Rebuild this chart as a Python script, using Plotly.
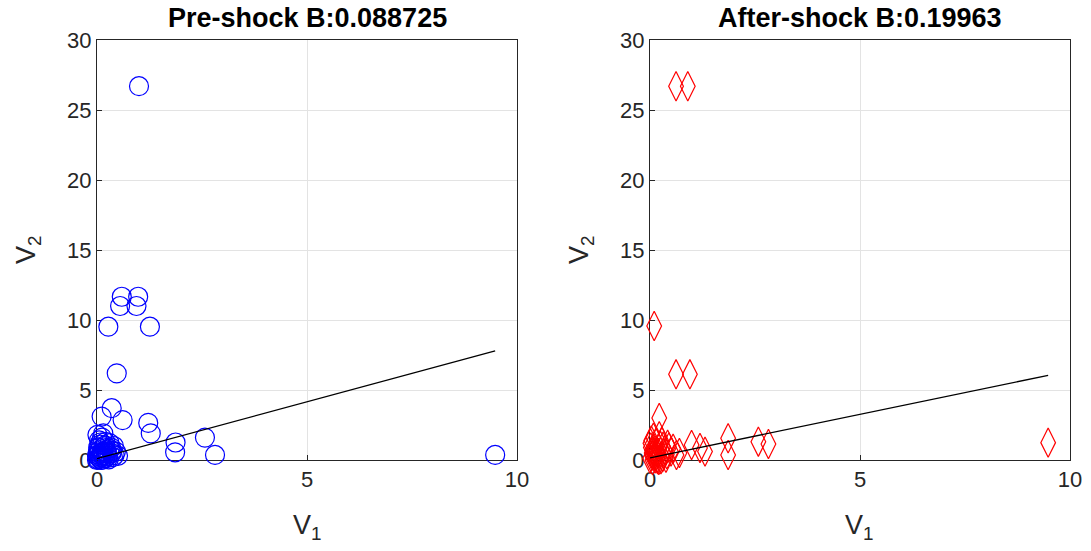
import plotly.graph_objects as go

# Pre-shock data (V1, V2)
pre_v1 = [1.0, 0.59, 0.55, 0.98, 0.94, 0.27, 1.26, 0.47, 0.35, 0.11, 0.61, 1.22, 1.28,
          1.87, 1.86, 2.57, 2.81, 9.48,
          0.05, 0.10, 0.15, 0.20, 0.12, 0.25, 0.30, 0.08, 0.35, 0.40, 0.45, 0.02, 0.18,
          0.22, 0.05, 0.30, 0.50, 0.10, 0.28, 0.15, 0.38, 0.06, 0.12, 0.20, 0.03,
          0.00, 0.04, 0.14, 0.24, 0.33, 0.01, 0.09, 0.07, 0.16, 0.26, 0.36, 0.02,
          0.11, 0.19, 0.04, 0.08, 0.13, 0.23, 0.42, 0.00, 0.06]
pre_v2 = [26.7, 11.66, 11.0, 11.66, 11.0, 9.52, 9.52, 6.19, 3.7, 3.1, 2.85, 2.65, 1.9,
          1.25, 0.55, 1.6, 0.36, 0.36,
          0.2, 0.5, 0.9, 1.3, 1.6, 0.3, 0.8, 1.1, 0.5, 1.0, 0.6, 0.05, 0.1,
          0.7, 1.4, 1.2, 0.3, 0.0, 0.05, 1.9, 0.2, 0.7, 0.35, 0.15, 0.9,
          0.0, 0.4, 0.6, 0.45, 0.9, 1.8, 0.25, 0.1, 0.3, 0.15, 0.65, 0.55,
          0.0, 1.05, 0.85, 1.25, 0.45, 0.55, 0.35, 0.3, 0.15]

# After-shock data (V1, V2)
post_v1 = [0.62, 0.9, 0.10, 0.62, 0.95, 0.22, 0.99, 0.63, 1.19, 1.31, 1.86, 1.86,
           2.58, 2.82, 9.48,
           0.05, 0.10, 0.15, 0.20, 0.25, 0.30, 0.35, 0.40, 0.45, 0.50, 0.08, 0.12,
           0.18, 0.28, 0.33, 0.02, 0.06, 0.22, 0.38, 0.55, 0.70, 0.15, 0.03, 0.42,
           0.00, 0.04, 0.13, 0.26, 0.01, 0.09, 0.07, 0.17, 0.31, 0.05, 0.11, 0.21]
post_v2 = [26.7, 26.7, 9.57, 6.12, 6.12, 3.0, 1.07, 0.36, 0.86, 0.6, 1.55, 0.36,
           1.31, 1.14, 1.24,
           0.3, 0.8, 1.2, 0.5, 1.0, 0.2, 0.7, 0.4, 0.9, 0.6, 1.6, 0.1,
           0.05, 1.3, 0.45, 0.9, 0.0, 1.7, 0.15, 0.8, 0.5, 0.55, 1.4, 1.1,
           0.1, 0.5, 0.25, 0.05, 1.2, 0.6, 0.35, 0.15, 0.95, 0.7, 0.4, 0.0]

# Fitted line endpoints
pre_fit_x = [0.0, 9.48]
pre_fit_y = [0.1, 7.8]
post_fit_x = [0.0, 9.48]
post_fit_y = [0.15, 6.05]

titles = ["Pre-shock B:0.088725", "After-shock B:0.19963"]

W, H = 1091, 551
fig = go.Figure()

fig.add_trace(go.Scatter(x=pre_v1, y=pre_v2, mode="markers", xaxis="x", yaxis="y",
                         cliponaxis=False,
                         marker=dict(symbol="circle-open", size=19, color="#0000ff",
                                     line=dict(width=1.2, color="#0000ff")),
                         showlegend=False))
fig.add_trace(go.Scatter(x=pre_fit_x, y=pre_fit_y, mode="lines", xaxis="x", yaxis="y",
                         cliponaxis=False,
                         line=dict(color="black", width=1.3), showlegend=False))
fig.add_trace(go.Scatter(x=post_v1, y=post_v2, mode="markers", xaxis="x2", yaxis="y2",
                         cliponaxis=False,
                         marker=dict(symbol="diamond-tall-open", size=21, color="#ff0000",
                                     line=dict(width=1.2, color="#ff0000")),
                         showlegend=False))
fig.add_trace(go.Scatter(x=post_fit_x, y=post_fit_y, mode="lines", xaxis="x2", yaxis="y2",
                         cliponaxis=False,
                         line=dict(color="black", width=1.3), showlegend=False))

FONT = "Arial, Liberation Sans, sans-serif"
tickfont = dict(family=FONT, size=22, color="#262626")
axcommon = dict(showgrid=True, gridcolor="#e3e3e3", gridwidth=1, zeroline=False,
                showline=True, linecolor="#262626", linewidth=1, mirror=True,
                ticks="inside", ticklen=5, tickcolor="#262626", tickfont=tickfont,
                automargin=False, layer="below traces")

xd1 = [97 / W, 517 / W]
xd2 = [650 / W, 1070 / W]
yd = [1 - 460 / H, 1 - 40 / H]

lblfont = dict(family=FONT, size=27, color="#262626")
titfont = dict(family=FONT, size=27, color="black")

def py(px):
    return 1 - px / H

fig.update_layout(
    width=W, height=H,
    margin=dict(l=0, r=0, t=0, b=0),
    paper_bgcolor="white", plot_bgcolor="white",
    xaxis=dict(domain=xd1, range=[0, 10], tickvals=[0, 5, 10], anchor="y", **axcommon),
    yaxis=dict(domain=yd, range=[0, 30], tickvals=[0, 5, 10, 15, 20, 25, 30], anchor="x", **axcommon),
    xaxis2=dict(domain=xd2, range=[0, 10], tickvals=[0, 5, 10], anchor="y2", **axcommon),
    yaxis2=dict(domain=yd, range=[0, 30], tickvals=[0, 5, 10, 15, 20, 25, 30], anchor="x2", **axcommon),
    annotations=[
        dict(text="<b>" + titles[0] + "</b>", x=(xd1[0] + xd1[1]) / 2, y=py(18), xref="paper", yref="paper",
             showarrow=False, font=titfont, xanchor="center", yanchor="middle"),
        dict(text="<b>" + titles[1] + "</b>", x=(xd2[0] + xd2[1]) / 2, y=py(18), xref="paper", yref="paper",
             showarrow=False, font=titfont, xanchor="center", yanchor="middle"),
        dict(text="V<sub>1</sub>", x=(xd1[0] + xd1[1]) / 2, y=py(527), xref="paper", yref="paper",
             showarrow=False, font=lblfont, xanchor="center", yanchor="middle"),
        dict(text="V<sub>1</sub>", x=(xd2[0] + xd2[1]) / 2, y=py(527), xref="paper", yref="paper",
             showarrow=False, font=lblfont, xanchor="center", yanchor="middle"),
        dict(text="V<sub>2</sub>", x=28 / W, y=py(250), xref="paper", yref="paper", textangle=-90,
             showarrow=False, font=lblfont, xanchor="center", yanchor="middle"),
        dict(text="V<sub>2</sub>", x=581 / W, y=py(250), xref="paper", yref="paper", textangle=-90,
             showarrow=False, font=lblfont, xanchor="center", yanchor="middle"),
    ],
)

fig.write_html("out.html", config={"displayModeBar": False},
               post_script="document.body.style.margin='0';")
